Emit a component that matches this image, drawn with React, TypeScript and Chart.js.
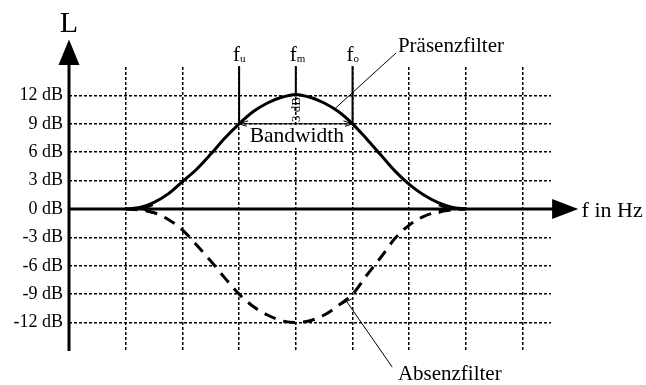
import { useEffect, useRef } from 'react';
import { Chart, registerables } from 'chart.js';

Chart.register(...registerables);

// frequency positions (in grid units along the f axis)
const freqSteps = [1, 1.25, 1.5, 1.75, 2, 2.25, 2.5, 2.75, 3, 3.25, 3.5, 3.75, 4, 4.25, 4.5, 4.75, 5, 5.25, 5.5, 5.75, 6, 6.25, 6.5, 6.75, 7];
// Präsenzfilter (boost) level in dB
const praesenzDb = [0, 0.15, 0.7, 1.6, 2.9, 4.2, 5.8, 7.5, 9.0, 10.3, 11.2, 11.8, 12.1, 11.8, 11.2, 10.3, 9.0, 7.4, 5.7, 4.0, 2.6, 1.5, 0.7, 0.2, 0];
// Absenzfilter (cut) level in dB
const absenzDb = [0, -0.1, -0.4, -1.1, -2.2, -3.8, -5.5, -7.3, -9.0, -10.3, -11.2, -11.8, -12, -11.8, -11.2, -10.2, -9.0, -7.0, -5.1, -3.1, -1.7, -0.8, -0.3, -0.1, 0];
// tick labels / grid
const levelTicks = [-12, -9, -6, -3, 0, 3, 6, 9, 12];
const freqGrid = [1, 2, 3, 4, 5, 6, 7, 8];
// band markers
const markerNames = ['u', 'm', 'o'];
const markerFreqs = [3, 4, 5];
const markerBottoms = [9, 12.1, 9];

const FONT = '"Liberation Serif", "Times New Roman", serif';

const overlay = {
  id: 'overlay',
  beforeDatasetsDraw(chart: any) {
    const { ctx, scales } = chart;
    const X = (v: number) => scales.x.getPixelForValue(v);
    const Y = (v: number) => scales.y.getPixelForValue(v);
    ctx.save();
    ctx.strokeStyle = '#000';
    ctx.fillStyle = '#000';
    ctx.lineWidth = 3;
    ctx.setLineDash([]);
    // y axis
    ctx.beginPath();
    ctx.moveTo(X(0), Y(-15));
    ctx.lineTo(X(0), Y(15.4));
    ctx.stroke();
    ctx.beginPath();
    ctx.moveTo(X(0), Y(17.9));
    ctx.lineTo(X(0) - 10.5, Y(15.2));
    ctx.lineTo(X(0) + 10.5, Y(15.2));
    ctx.closePath();
    ctx.fill();
    // x axis
    ctx.beginPath();
    ctx.moveTo(X(0), Y(0));
    ctx.lineTo(X(8.6), Y(0));
    ctx.stroke();
    ctx.beginPath();
    ctx.moveTo(X(8.98), Y(0));
    ctx.lineTo(X(8.52), Y(0) - 10);
    ctx.lineTo(X(8.52), Y(0) + 10);
    ctx.closePath();
    ctx.fill();
    ctx.restore();
  },
  afterDatasetsDraw(chart: any) {
    const { ctx, scales } = chart;
    const X = (v: number) => scales.x.getPixelForValue(v);
    const Y = (v: number) => scales.y.getPixelForValue(v);
    ctx.save();
    ctx.strokeStyle = '#000';
    ctx.fillStyle = '#000';
    ctx.setLineDash([]);

    // axis labels
    ctx.font = `30px ${FONT}`;
    ctx.textAlign = 'center';
    ctx.textBaseline = 'alphabetic';
    ctx.fillText('L', X(0), 32);
    ctx.font = `22px ${FONT}`;
    ctx.textAlign = 'left';
    ctx.fillText('f in Hz', X(9.04), Y(0) + 8);

    // marker lines and labels
    ctx.lineWidth = 2;
    markerFreqs.forEach((f, i) => {
      ctx.beginPath();
      ctx.moveTo(X(f), Y(markerBottoms[i]));
      ctx.lineTo(X(f), Y(15.1));
      ctx.stroke();
      ctx.font = `21px ${FONT}`;
      ctx.textAlign = 'left';
      const fx = X(f) - 6;
      ctx.fillText('f', fx, 61);
      const w = ctx.measureText('f').width;
      ctx.font = `11px ${FONT}`;
      ctx.fillText(markerNames[i], fx + w, 62);
    });

    // bandwidth arrow
    ctx.lineWidth = 1;
    const by = Y(9);
    ctx.beginPath();
    ctx.moveTo(X(3), by);
    ctx.lineTo(X(5), by);
    ctx.stroke();
    ctx.beginPath();
    ctx.moveTo(X(3) + 9, by - 3);
    ctx.lineTo(X(3), by);
    ctx.lineTo(X(3) + 9, by + 3);
    ctx.moveTo(X(5) - 9, by - 3);
    ctx.lineTo(X(5), by);
    ctx.lineTo(X(5) - 9, by + 3);
    ctx.stroke();

    // Bandwidth label on white
    ctx.font = `21.5px ${FONT}`;
    ctx.textAlign = 'center';
    const bw = ctx.measureText('Bandwidth').width;
    const cx = (X(3) + X(5)) / 2;
    ctx.fillStyle = '#fff';
    ctx.fillRect(cx - bw / 2 - 2, by + 2, bw + 4, 22);
    ctx.fillStyle = '#000';
    ctx.fillText('Bandwidth', cx + 1, by + 18);

    // 3 dB rotated
    ctx.save();
    ctx.translate(X(4) + 1, (Y(9) + Y(12)) / 2);
    ctx.rotate(-Math.PI / 2);
    ctx.font = `13px ${FONT}`;
    ctx.textAlign = 'center';
    ctx.textBaseline = 'middle';
    ctx.fillText('3 dB', 0, 0);
    ctx.restore();

    // small chevrons on the 0 dB line
    ctx.lineWidth = 2;
    ctx.beginPath();
    ctx.moveTo(X(1.48), Y(0) - 4);
    ctx.lineTo(X(1.3), Y(0));
    ctx.lineTo(X(1.48), Y(0) + 4);
    ctx.moveTo(X(6.52), Y(0) - 4);
    ctx.lineTo(X(6.7), Y(0));
    ctx.lineTo(X(6.52), Y(0) + 4);
    ctx.stroke();

    // Präsenzfilter leader + label
    ctx.lineWidth = 1;
    ctx.beginPath();
    ctx.moveTo(X(4.69), Y(10.6));
    ctx.lineTo(X(5.77), Y(16.5));
    ctx.stroke();
    ctx.font = `21px ${FONT}`;
    ctx.textAlign = 'left';
    ctx.textBaseline = 'alphabetic';
    ctx.fillText('Präsenzfilter', X(5.8), 52);

    // Absenzfilter leader + label
    ctx.beginPath();
    ctx.moveTo(X(4.9), Y(-9.8));
    ctx.lineTo(X(5.7), Y(-16.7));
    ctx.moveTo(X(4.9) - 6, Y(-9.8) + 3);
    ctx.lineTo(X(4.9) + 5, Y(-9.8) - 3);
    ctx.stroke();
    ctx.fillText('Absenzfilter', X(5.8), 380);

    ctx.restore();
  },
};

export default function App() {
  const ref = useRef<HTMLCanvasElement | null>(null);
  useEffect(() => {
    document.body.style.margin = '0';
    const canvas = ref.current;
    if (!canvas) return;
    const chart = new Chart(canvas, {
      type: 'line',
      data: {
        datasets: [
          {
            label: 'Präsenzfilter',
            data: freqSteps.map((f, i) => ({ x: f, y: praesenzDb[i] })),
            borderColor: '#000',
            borderWidth: 3,
            pointRadius: 0,
            fill: false,
            cubicInterpolationMode: 'monotone',
          },
          {
            label: 'Absenzfilter',
            data: freqSteps.map((f, i) => ({ x: f, y: absenzDb[i] })),
            borderColor: '#000',
            borderWidth: 3,
            borderDash: [12, 8],
            pointRadius: 0,
            fill: false,
            cubicInterpolationMode: 'monotone',
          },
        ],
      },
      options: {
        animation: false,
        responsive: false,
        events: [],
        layout: { autoPadding: false, padding: { top: 67, right: 95, left: 0, bottom: 0 } },
        plugins: { legend: { display: false }, tooltip: { enabled: false } },
        scales: {
          x: {
            type: 'linear',
            min: 0,
            max: 8.5,
            afterBuildTicks: (s: any) => {
              s.ticks = freqGrid.map((v) => ({ value: v }));
            },
            afterFit: (s: any) => {
              s.height = 34;
            },
            ticks: { display: false },
            grid: { color: '#000', lineWidth: 1.5, drawTicks: false },
            border: { display: false, dash: [3, 2] },
          },
          y: {
            type: 'linear',
            min: -15,
            max: 15,
            afterBuildTicks: (s: any) => {
              s.ticks = levelTicks.map((v) => ({ value: v }));
            },
            afterFit: (s: any) => {
              s.width = 69;
            },
            ticks: {
              color: '#000',
              padding: 6,
              font: { family: FONT, size: 18 },
              callback: (v: any) => `${v} dB`,
            },
            grid: {
              color: (c: any) => (c.tick && c.tick.value === 0 ? 'rgba(0,0,0,0)' : '#000'),
              lineWidth: 1.5,
              drawTicks: false,
            },
            border: { display: false, dash: [3, 2] },
          },
        },
      },
      plugins: [overlay],
    } as any);
    return () => chart.destroy();
  }, []);
  return <canvas ref={ref} width={646} height={385} style={{ display: 'block' }} />;
}
